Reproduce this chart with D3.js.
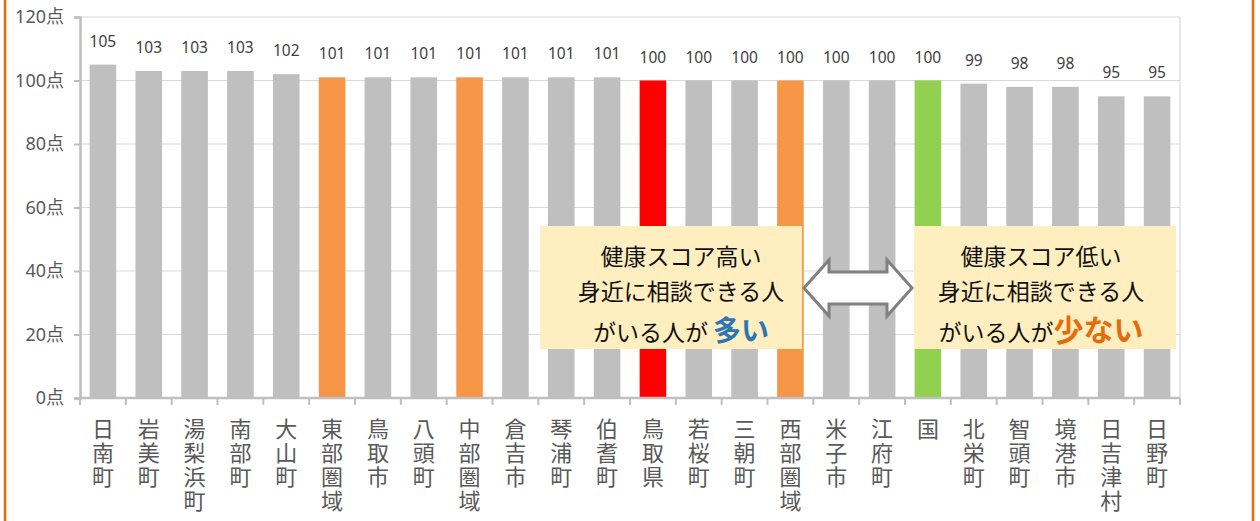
<!DOCTYPE html>
<html><head><meta charset="utf-8">
<script src="https://cdn.jsdelivr.net/npm/d3@7"></script>
<style>body{margin:0;background:#fff;}svg{display:block;font-family:"Noto Sans CJK JP","Noto Sans",sans-serif;}</style>
</head><body>
<svg id="c" width="1260" height="521"></svg>
<script>
const categories = ["日南町","岩美町","湯梨浜町","南部町","大山町","東部圏域","鳥取市","八頭町","中部圏域","倉吉市","琴浦町","伯耆町","鳥取県","若桜町","三朝町","西部圏域","米子市","江府町","国","北栄町","智頭町","境港市","日吉津村","日野町"];
const values = [105,103,103,103,102,101,101,101,101,101,101,101,100,100,100,100,100,100,100,99,98,98,95,95];
const kinds = ["m","m","m","m","m","area","m","m","area","m","m","m","pref","m","m","area","m","m","nation","m","m","m","m","m"];
const yTicks = [0,20,40,60,80,100,120];
const colorMap = {m:"#BFBFBF",area:"#F79646",pref:"#FF0000",nation:"#92D050"};

const svg = d3.select("#c");
const x = d3.scaleBand().domain(categories).range([80,1180]).paddingInner(0.42).paddingOuter(0.21);
const y = d3.scaleLinear().domain([0,120]).range([398,17]);

// orange frame sides
svg.append("line").attr("x1",5).attr("x2",5).attr("y1",0).attr("y2",521).attr("stroke","#E46C0A").attr("stroke-width",2.5);
svg.append("line").attr("x1",1253).attr("x2",1253).attr("y1",0).attr("y2",521).attr("stroke","#E46C0A").attr("stroke-width",2.5);

// gridlines
svg.append("g").selectAll("line").data(yTicks.filter(d=>d>0)).join("line")
  .attr("x1",80).attr("x2",1180).attr("y1",d=>y(d)).attr("y2",d=>y(d))
  .attr("stroke","#D9D9D9").attr("stroke-width",1.2);
svg.append("line").attr("x1",1180).attr("x2",1180).attr("y1",y(120)).attr("y2",y(0)).attr("stroke","#D9D9D9").attr("stroke-width",1.2);

// bars
svg.append("g").selectAll("rect").data(categories).join("rect")
  .attr("x",d=>x(d)).attr("width",x.bandwidth())
  .attr("y",(d,i)=>y(values[i])).attr("height",(d,i)=>y(0)-y(values[i]))
  .attr("fill",(d,i)=>colorMap[kinds[i]]);

// value labels
svg.append("g").selectAll("text").data(categories).join("text")
  .attr("x",d=>x(d)+x.bandwidth()/2).attr("y",(d,i)=>y(values[i])-18)
  .attr("text-anchor","middle").attr("font-size",15.5).attr("fill","#404040")
  .attr("font-family","'Noto Sans',sans-serif")
  .text((d,i)=>values[i]);

// y axis
const yAxis = d3.axisLeft(y).tickValues(yTicks).tickSize(6).tickPadding(8).tickFormat(d=>d+"点");
const gy = svg.append("g").attr("transform","translate(80,0)").call(yAxis);
gy.select(".domain").attr("stroke","#BFBFBF").attr("stroke-width",2.5);
gy.selectAll(".tick line").attr("stroke","#BFBFBF").attr("stroke-width",2);
gy.selectAll(".tick text").attr("font-size",18).attr("fill","#595959").attr("font-family","'Noto Sans','Noto Sans CJK JP',sans-serif").attr("dx",-2);

// x axis
const gx = svg.append("g").attr("transform","translate(0,398)");
gx.append("line").attr("x1",80).attr("x2",1180).attr("stroke","#BFBFBF").attr("stroke-width",2.5);
const bounds = d3.range(categories.length+1).map(i=> i<categories.length ? x(categories[i]) - x.step()*x.paddingInner()/2 : 1180);
gx.selectAll("line.tk").data(bounds).join("line").attr("class","tk")
  .attr("x1",d=>d).attr("x2",d=>d).attr("y1",0).attr("y2",7).attr("stroke","#BFBFBF").attr("stroke-width",2);
const lab = gx.selectAll("text.cl").data(categories).join("text").attr("class","cl")
  .attr("fill","#595959").attr("font-size",22).attr("text-anchor","middle");
lab.each(function(d){
  const t = d3.select(this);
  Array.from(d).forEach((ch,i)=>{
    t.append("tspan").attr("x",x(d)+x.bandwidth()/2).attr("y",39+i*24).text(ch);
  });
});

// annotation boxes
const boxes = [{x0:540,x1:802,cx:681,l1:"健康スコア高い",l3a:"がいる人が ",l3b:"多い",col:"#2E75B6",fs:28},
               {x0:914,x1:1176,cx:1041,l1:"健康スコア低い",l3a:"がいる人が",l3b:"少ない",col:"#E46C0A",fs:30}];
boxes.forEach(b=>{
  svg.append("rect").attr("x",b.x0).attr("y",226).attr("width",b.x1-b.x0).attr("height",123).attr("fill","#FFEEC0");
  const g = svg.append("g").attr("text-anchor","middle").attr("fill","#111").attr("font-size",23);
  g.append("text").attr("x",b.cx).attr("y",265).text(b.l1);
  g.append("text").attr("x",b.cx).attr("y",300).text("身近に相談できる人");
  const t3 = g.append("text").attr("x",b.cx).attr("y",341);
  t3.append("tspan").text(b.l3a);
  t3.append("tspan").attr("fill",b.col).attr("font-weight","bold").attr("font-size",b.fs).text(b.l3b);
});

// double arrow
const ax0=804, ax1=912, acy=288;
const arrow = [[ax0,acy],[ax0+25,acy-28],[ax0+25,acy-16],[ax1-25,acy-16],[ax1-25,acy-28],[ax1,acy],[ax1-25,acy+28],[ax1-25,acy+16],[ax0+25,acy+16],[ax0+25,acy+28]];
svg.append("path").attr("d",d3.line()(arrow)+"Z").attr("fill","#fff").attr("stroke","#808080").attr("stroke-width",3).attr("stroke-linejoin","miter");
</script>
</body></html>
